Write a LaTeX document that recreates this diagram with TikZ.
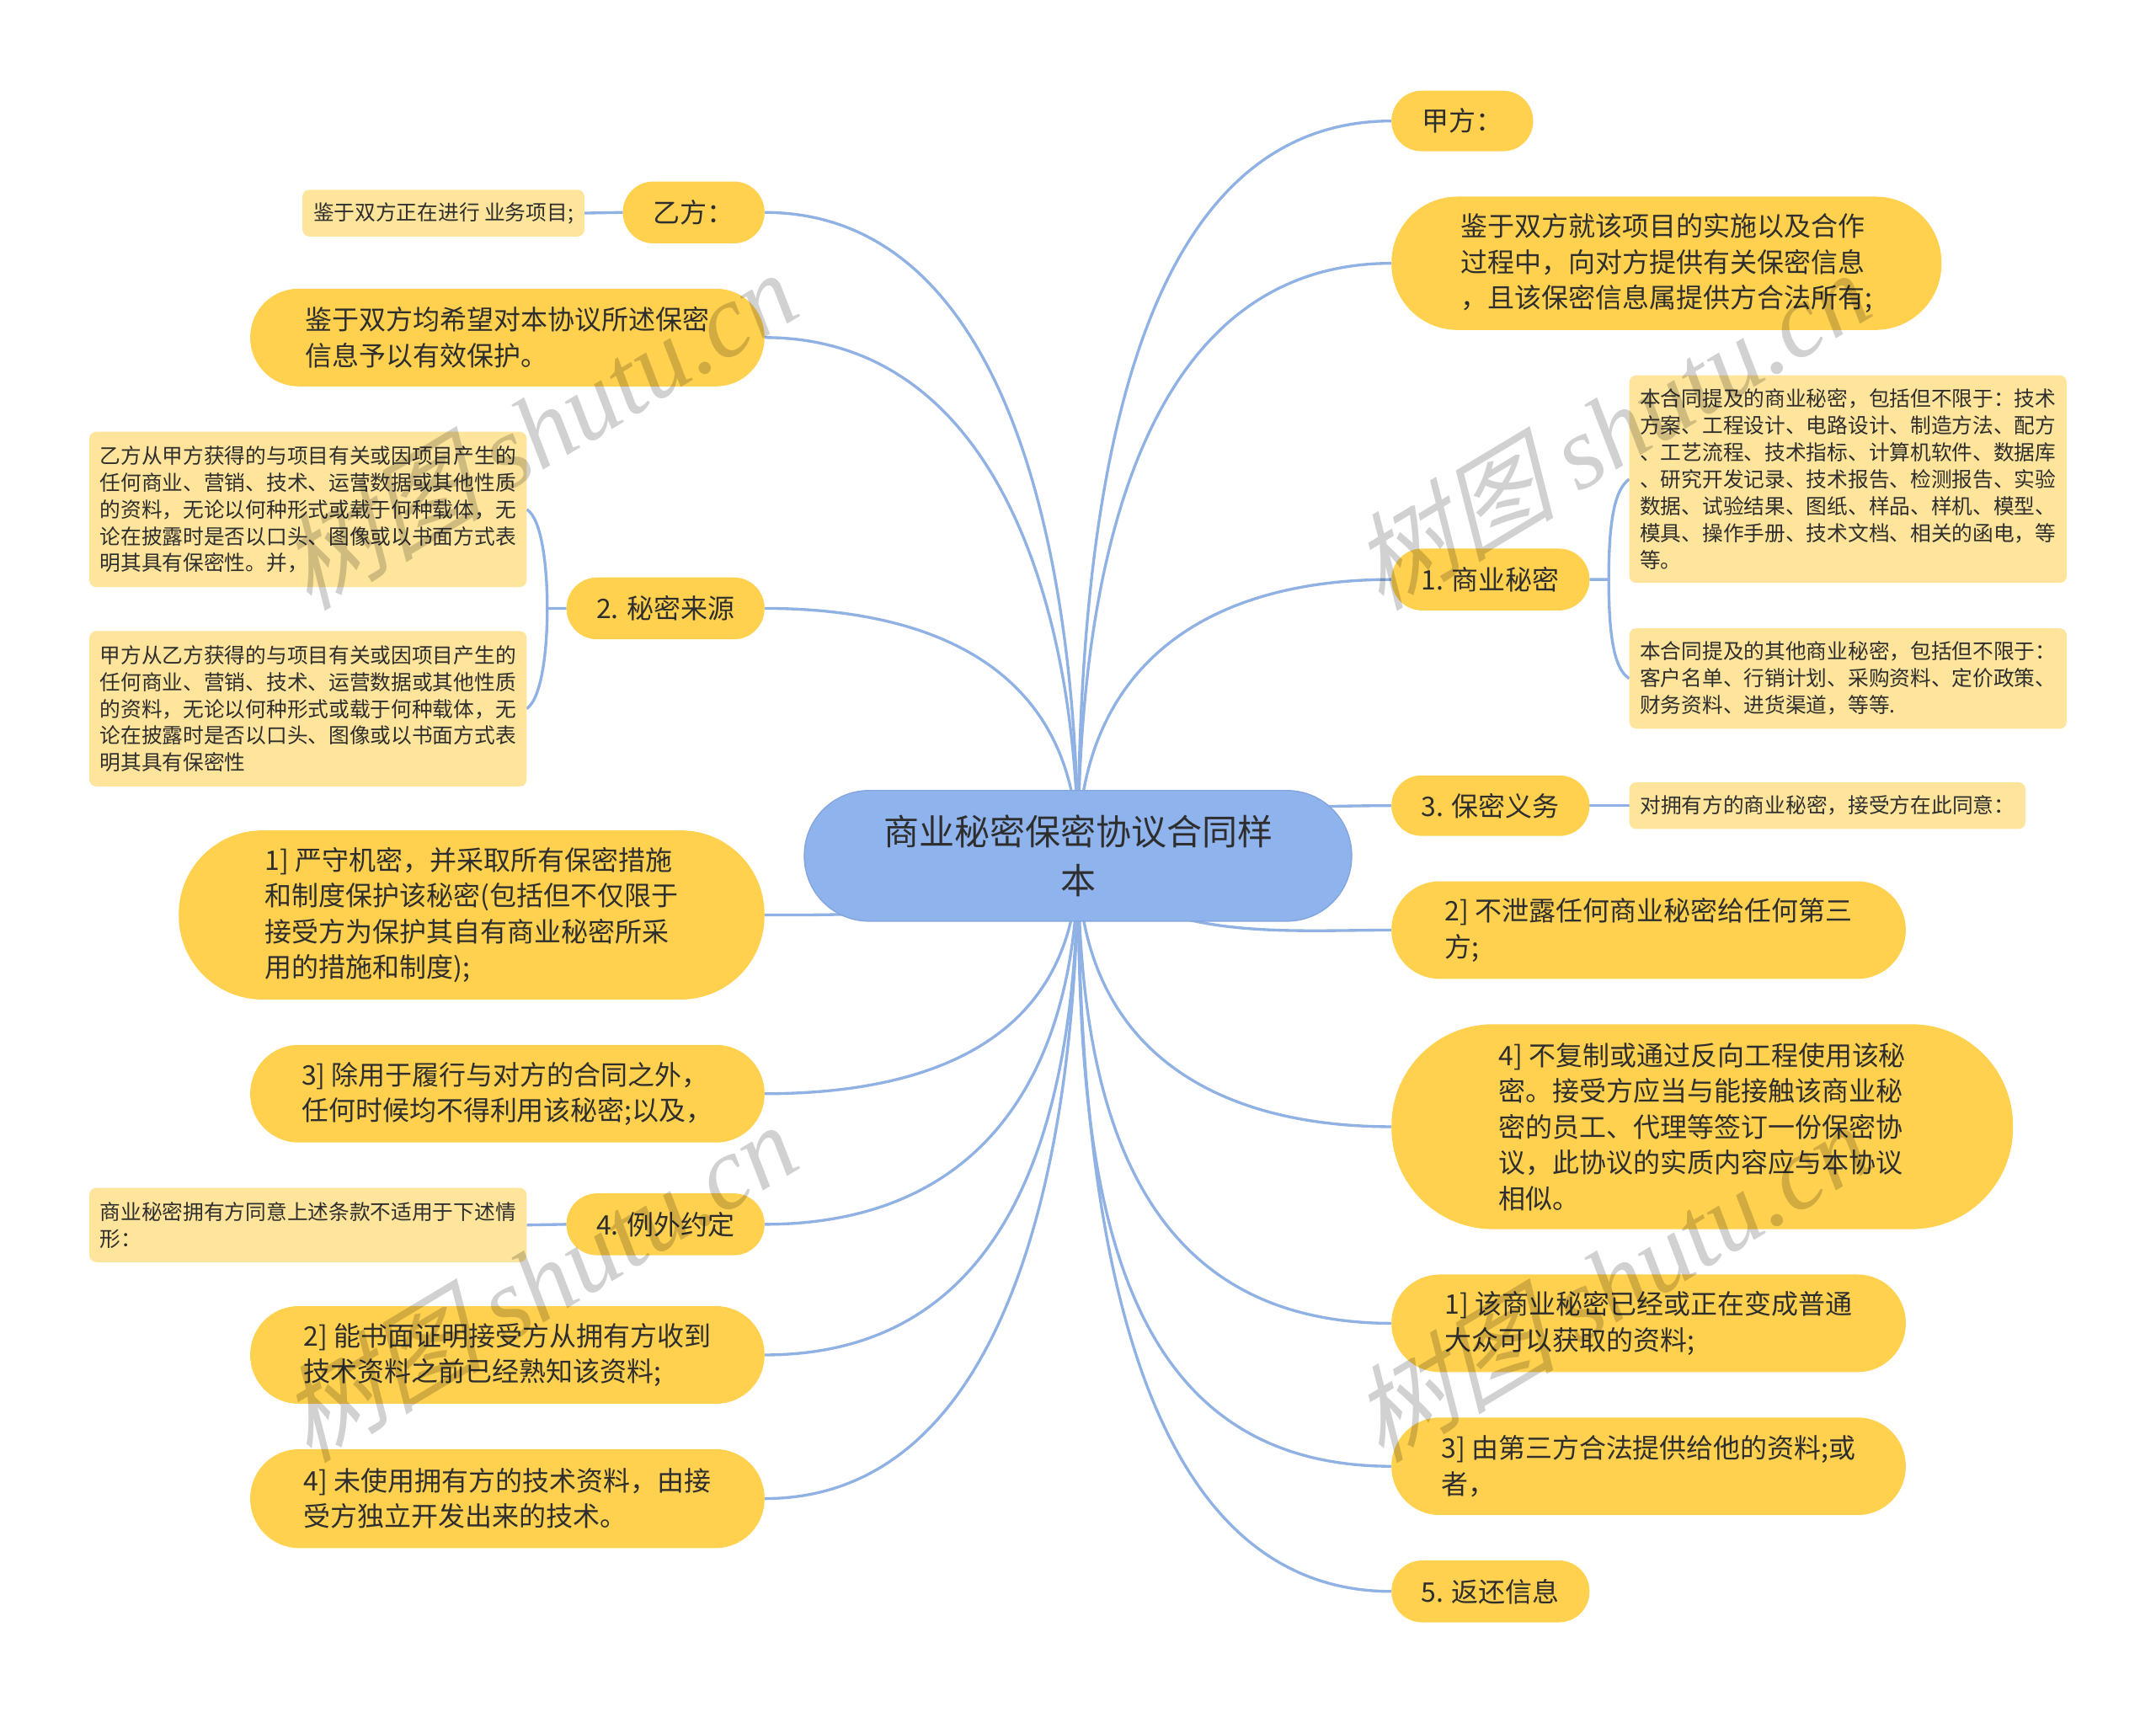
\documentclass[tikz,border=0pt]{standalone}
\usepackage{fontspec}
\setmainfont{Noto Sans CJK SC}
\newfontfamily\markcjk[FakeSlant=0.3]{Noto Sans CJK SC}
\newfontfamily\marklatin{Liberation Serif}
\usepackage{xcolor}
\usetikzlibrary{backgrounds}
\definecolor{rootfill}{HTML}{8FB3EC}
\definecolor{rootedge}{HTML}{83A6DF}
\definecolor{topicfill}{HTML}{FFD14F}
\definecolor{notefill}{HTML}{FEE59B}
\definecolor{linkcolor}{HTML}{8FB1E4}
\definecolor{inkcolor}{HTML}{2E2E2E}
\def\pxu{0.016327cm}
\tikzset{
    box/.style 2 args={
        inner sep=0pt,
        outer sep=0pt,
        align=left,
        text=inkcolor,
        minimum width=#1*\pxu,
        minimum height=#2*\pxu
    },
    topic/.style 2 args={
        box={#1}{#2},
        fill=topicfill,
        rounded corners=0.495*#2*\pxu,
        font=\fontsize{9.1pt}{12.07pt}\selectfont
    },
    note/.style 2 args={
        box={#1}{#2},
        fill=notefill,
        rounded corners=5*\pxu,
        font=\fontsize{7.03pt}{9.1pt}\selectfont
    },
    link/.style={
        draw=linkcolor,
        line width=0.95pt
    },
    shutumark/.style={
        rotate=31,
        text=black,
        opacity=0.18,
        font=\fontsize{35pt}{35pt}\selectfont
    }
}
\newcommand{\shutu}{{\markcjk 树图} {\marklatin\itshape shutu.cn}}

\begin{document}
\begin{tikzpicture}[x=\pxu, y=-\pxu]
    \useasboundingbox (0,0) rectangle (1568,1245.2);

    % Centre
    \node[box={398}{95}, fill=rootfill, draw=rootedge, line width=0.4pt, rounded corners=0.495*95*\pxu,
        align=center, font=\fontsize{11.95pt}{16.3pt}\selectfont] (root) at (784,622.5)
        {商业秘密保密协议合同样\\本};

    % Topics - right
    \node[topic={103}{44}] (jia) at (1063.5,88) {甲方：};
    \node[topic={400}{97}] (jiaterm) at (1212,191.5) {鉴于双方就该项目的实施以及合作\\过程中，向对方提供有关保密信息\\，且该保密信息属提供方合法所有;};
    \node[topic={144}{45}] (secret) at (1084,421.5) {1. 商业秘密};
    \node[topic={144}{44}] (duty) at (1084,586) {3. 保密义务};
    \node[topic={374}{71}] (nodisclose) at (1199,676.5) {2] 不泄露任何商业秘密给任何第三\\方;};
    \node[topic={452}{149}] (nocopy) at (1238,819.5) {4] 不复制或通过反向工程使用该秘\\密。接受方应当与能接触该商业秘\\密的员工、代理等签订一份保密协\\议，此协议的实质内容应与本协议\\相似。};
    \node[topic={374}{71}] (public) at (1199,962.5) {1] 该商业秘密已经或正在变成普通\\大众可以获取的资料;};
    \node[topic={374}{71}] (third) at (1199,1066.5) {3] 由第三方合法提供给他的资料;或\\者，};
    \node[topic={144}{45}] (giveback) at (1084,1157.5) {5. 返还信息};

    % Topics - left
    \node[topic={103}{45}] (yi) at (504.5,154.5) {乙方：};
    \node[topic={374}{71}] (yiterm) at (369,245.5) {鉴于双方均希望对本协议所述保密\\信息予以有效保护。};
    \node[topic={144}{45}] (source) at (484,442.5) {2. 秘密来源};
    \node[topic={426}{123}] (keep) at (343,665.5) {1] 严守机密，并采取所有保密措施\\和制度保护该秘密(包括但不仅限于\\接受方为保护其自有商业秘密所采\\用的措施和制度);};
    \node[topic={374}{71}] (useonly) at (369,795.5) {3] 除用于履行与对方的合同之外，\\任何时候均不得利用该秘密;以及，};
    \node[topic={144}{45}] (except) at (484,890.5) {4. 例外约定};
    \node[topic={374}{71}] (written) at (369,985.5) {2] 能书面证明接受方从拥有方收到\\技术资料之前已经熟知该资料;};
    \node[topic={374}{72}] (own) at (369,1090) {4] 未使用拥有方的技术资料，由接\\受方独立开发出来的技术。};

    % Notes
    \node[note={318}{151}] (secreta) at (1344,348.5) {本合同提及的商业秘密，包括但不限于：技术\\方案、工程设计、电路设计、制造方法、配方\\、工艺流程、技术指标、计算机软件、数据库\\、研究开发记录、技术报告、检测报告、实验\\数据、试验结果、图纸、样品、样机、模型、\\模具、操作手册、技术文档、相关的函电，等\\等。};
    \node[note={318}{73}] (secretb) at (1344,493.5) {本合同提及的其他商业秘密，包括但不限于：\\客户名单、行销计划、采购资料、定价政策、\\财务资料、进货渠道，等等.};
    \node[note={288}{34}] (dutya) at (1329,586) {对拥有方的商业秘密，接受方在此同意：};
    \node[note={205}{34}] (yia) at (322.5,155) {鉴于双方正在进行 业务项目;};
    \node[note={318}{113}] (sourcea) at (224,370.5) {乙方从甲方获得的与项目有关或因项目产生的\\任何商业、营销、技术、运营数据或其他性质\\的资料，无论以何种形式或载于何种载体，无\\论在披露时是否以口头、图像或以书面方式表\\明其具有保密性。并，};
    \node[note={318}{113}] (sourceb) at (224,515.5) {甲方从乙方获得的与项目有关或因项目产生的\\任何商业、营销、技术、运营数据或其他性质\\的资料，无论以何种形式或载于何种载体，无\\论在披露时是否以口头、图像或以书面方式表\\明其具有保密性};
    \node[note={318}{54}] (excepta) at (224,891) {商业秘密拥有方同意上述条款不适用于下述情\\形：};

    \coordinate (secretfork) at (1170,421.5);
    \coordinate (sourcefork) at (398,442.5);

    % Edges
    \begin{scope}[on background layer]
        \draw[link] (root.center) to[out=90, in=180, in looseness=0.88] (jia.west);
        \draw[link] (root.center) to[out=90, in=180] (jiaterm.west);
        \draw[link] (root.center) to[out=90, in=180, looseness=1.15] (secret.west);
        \draw[link] (root.center) to[out=40, in=180, looseness=0.6] (duty.west);
        \draw[link] (root.center) to[out=-50, in=180, looseness=0.9] (nodisclose.west);
        \draw[link] (root.center) to[out=-90, in=180, looseness=1.15] (nocopy.west);
        \draw[link] (root.center) to[out=-90, in=180, looseness=1.15] (public.west);
        \draw[link] (root.center) to[out=-90, in=180, looseness=1.1] (third.west);
        \draw[link] (root.center) to[out=-90, in=180, in looseness=0.88] (giveback.west);
        \draw[link] (root.center) to[out=90, in=0, in looseness=0.9] (yi.east);
        \draw[link] (root.center) to[out=90, in=0] (yiterm.east);
        \draw[link] (root.center) to[out=90, in=0, looseness=1.15] (source.east);
        \draw[link] (root.center) to[out=-135, in=0, looseness=0.7] (keep.east);
        \draw[link] (root.center) to[out=-90, in=0, looseness=1.15] (useonly.east);
        \draw[link] (root.center) to[out=-90, in=0, looseness=1.15] (except.east);
        \draw[link] (root.center) to[out=-90, in=0, looseness=1.1] (written.east);
        \draw[link] (root.center) to[out=-90, in=0, in looseness=0.9] (own.east);
        \draw[link] (yi.west) -- (yia.east);
        \draw[link] (duty.east) -- (dutya.west);
        \draw[link] (except.west) -- (excepta.east);
        \draw[link] (secret.east) -- (secretfork) .. controls (1170,380) and (1174,356) .. (secreta.west);
        \draw[link] (secretfork) .. controls (1170,463) and (1174,487) .. (secretb.west);
        \draw[link] (source.west) -- (sourcefork) .. controls (398,412) and (394,377) .. (sourcea.east);
        \draw[link] (sourcefork) .. controls (398,473) and (394,508) .. (sourceb.east);
    \end{scope}

    % Watermarks
    \node[shutumark] (marka) at (390,312) {\shutu};
    \node[shutumark] (markb) at (390,932) {\shutu};
    \node[shutumark] (markc) at (1170,312) {\shutu};
    \node[shutumark] (markd) at (1170,932) {\shutu};
\end{tikzpicture}
\end{document}
